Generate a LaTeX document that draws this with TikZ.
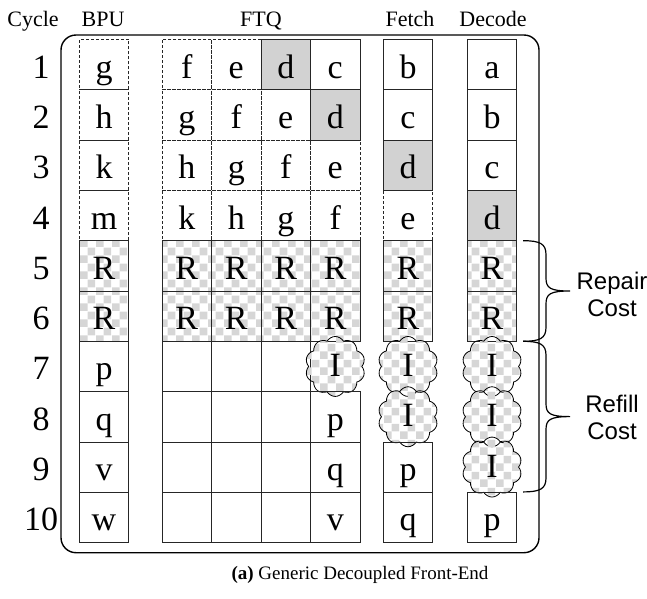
\documentclass[tikz,border=0pt]{standalone}
\usepackage{fontspec}
\setmainfont{Liberation Serif}
\setsansfont{Liberation Sans}
\usetikzlibrary{shapes.symbols,patterns.meta}

\tikzdeclarepattern{name=bigchecks, type=uncolored,
  bounding box={(0pt,0pt) and (16pt,16pt)}, tile size={(16pt,16pt)},
  code={\fill (0pt,0pt) rectangle (8pt,8pt); \fill (8pt,8pt) rectangle (16pt,16pt);}}

\tikzset{
  cell/.style={minimum width=49.5pt, minimum height=50.3pt, inner sep=0pt,
    text height=30pt, text depth=3pt, font=\fontsize{34}{36}\selectfont},
  sld/.style={cell, draw=black!85, line width=0.8pt},
  dsh/.style={sld, dash pattern=on 3pt off 2pt},
  shd/.style={sld, fill=gray!35},
  rep/.style={sld, pattern=bigchecks, pattern color=gray!32},
  bub/.style={cell, cloud, cloud puffs=10, cloud puff arc=120, aspect=1,
    minimum width=60pt, minimum height=60pt, text height=20pt, text depth=0pt,
    draw, line width=0.8pt, pattern=bigchecks, pattern color=gray!32},
  hdr/.style={anchor=base, font=\fontsize{22}{24}\selectfont},
  costlbl/.style={font=\sffamily\fontsize{24}{27}\selectfont, align=center},
}

% brace on the right: top y, bottom y
\newcommand{\costbrace}[2]{%
  \pgfmathsetmacro{\bm}{(#1+#2)/2}
  \draw[line width=1.2pt] (523,#1) .. controls (540,#1) and (546,{#1+3}) .. (546,{#1+14})
    -- (546,{\bm-13}) .. controls (546,{\bm-3}) and (550,\bm) .. (570,\bm)
    .. controls (550,\bm) and (546,{\bm+3}) .. (546,{\bm+13})
    -- (546,{#2-14}) .. controls (546,{#2-3}) and (540,#2) .. (523,#2);
}

\begin{document}
\begin{tikzpicture}[x=1pt,y=-1pt]
\clip (0,0) rectangle (647,598);
% headers
\node[hdr] (h-cyc) at (33,26.5) {Cycle};
\node[hdr] (h-bpu) at (103,26.5) {BPU};
\node[hdr] (h-ftq) at (261,26.5) {FTQ};
\node[hdr] (h-fet) at (410,26.5) {Fetch};
\node[hdr] (h-dec) at (493,26.5) {Decode};
% frame
\draw[line width=1.4pt, rounded corners=15pt] (61,35) rectangle (539,552.7);
% cells
\foreach \r/\row in {
  1/{dsh/g,dsh/f,dsh/e,shd/d,sld/c,sld/b,sld/a},
  2/{dsh/h,dsh/g,dsh/f,dsh/e,shd/d,sld/c,sld/b},
  3/{dsh/k,dsh/h,dsh/g,dsh/f,dsh/e,shd/d,sld/c},
  4/{dsh/m,dsh/k,dsh/h,dsh/g,dsh/f,dsh/e,shd/d},
  5/{rep/R,rep/R,rep/R,rep/R,rep/R,rep/R,rep/R},
  6/{rep/R,rep/R,rep/R,rep/R,rep/R,rep/R,rep/R},
  7/{sld/p,sld/{},sld/{},sld/{},bub/I,bub/I,bub/I},
  8/{sld/q,sld/{},sld/{},sld/{},sld/p,bub/I,bub/I},
  9/{sld/v,sld/{},sld/{},sld/{},sld/q,sld/p,bub/I},
  10/{sld/w,sld/{},sld/{},sld/{},sld/v,sld/q,sld/p}}{
  \node[cell] (cyc-\r) at (41,{39.5+50.3*(\r-0.5)}) {\r};
  \foreach \s/\t [count=\k] in \row {
    \pgfmathsetmacro{\cx}{{104,186.75,236.25,285.75,335.25,408,492}[\k-1]}
    \node[\s] (c-\r-\k) at (\cx,{39.5+50.3*(\r-0.5)}) {\t};
  }
}
% costs
\costbrace{240.7}{341.3}
\costbrace{341.3}{491.9}
\node[costlbl] (rp-lbl) at (612,294) {Repair\\Cost};
\node[costlbl] (rf-lbl) at (612,417) {Refill\\Cost};
% caption
\node[font=\fontsize{19}{22}\selectfont] (cap) at (360,575) {\textbf{(a)} Generic Decoupled Front-End};
\end{tikzpicture}
\end{document}
